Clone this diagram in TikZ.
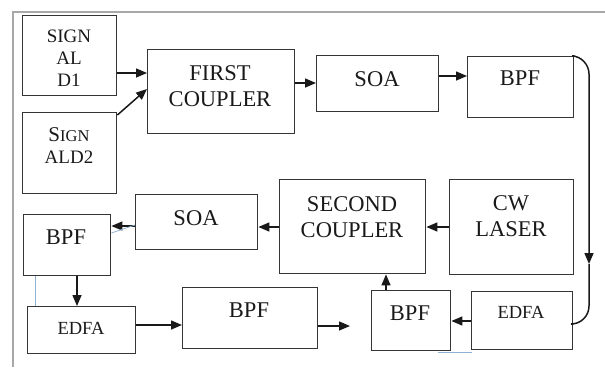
\documentclass[tikz,border=0pt]{standalone}
\usepackage{fontspec}
\setmainfont{Liberation Serif}
\usetikzlibrary{arrows.meta}
\definecolor{boxgray}{HTML}{353535}
\definecolor{framegray}{HTML}{A8A8A8}
\definecolor{faintblue}{HTML}{8FB2D4}
\begin{document}
\begin{tikzpicture}[x=1pt,y=-1pt,
  box/.style={draw=boxgray, line width=1.4pt, inner sep=0pt, anchor=north west},
  lbl/.style={align=center, inner sep=0pt, text=black!90,
    font=\fontsize{22.5}{26}\selectfont},
  small/.style={font=\fontsize{18.5}{22}\selectfont},
  wire/.style={line width=1.5pt, draw=black!90},
  link/.style={wire, -{Triangle[length=11pt,width=9pt]}},
  stray/.style={draw=faintblue, line width=0.8pt}]
\useasboundingbox (0,0) rectangle (605,367);
% page frame
\draw[framegray, line width=1.5pt] (13,367) -- (13,12) -- (605,12);

% upper row
\node[box, minimum width=94pt, minimum height=80pt] (sig1) at (22,15) {};
\node[lbl, font=\fontsize{19}{22}\selectfont] (sig1t) at (69,58) {SIGN\\AL\\D1};
\node[box, minimum width=94pt, minimum height=81pt] (sig2) at (22,112) {};
\node[lbl, font=\fontsize{19}{22}\selectfont] (sig2t) at (69,146)
  {{\fontsize{21}{22}\selectfont S}{\fontsize{16.5}{22}\selectfont IGN}\\ALD2};
\node[box, minimum width=147pt, minimum height=84pt] (fc) at (147,49) {};
\node[lbl] (fct) at (220,86) {FIRST\\COUPLER};
\node[box, minimum width=122pt, minimum height=56pt] (soa1) at (316,55) {};
\node[lbl] (soa1t) at (377,79) {SOA};
\node[box, minimum width=106pt, minimum height=61pt] (bpf1) at (467,56) {};
\node[lbl] (bpf1t) at (520,78) {BPF};

% middle row
\node[box, minimum width=124pt, minimum height=95pt] (cw) at (449,179) {};
\node[lbl] (cwt) at (511,216) {CW\\LASER};
\node[box, minimum width=146pt, minimum height=94pt] (sc) at (279,179) {};
\node[lbl] (sct) at (352,217) {SECOND\\COUPLER};
\node[box, minimum width=122pt, minimum height=55pt] (soa2) at (135,194) {};
\node[lbl] (soa2t) at (196,218) {SOA};
\node[box, minimum width=87pt, minimum height=61pt] (bpf2) at (23,214) {};
\node[lbl] (bpf2t) at (66,237) {BPF};

% lower row
\node[box, minimum width=108pt, minimum height=47pt] (edfa1) at (27,306) {};
\node[lbl, small] (edfa1t) at (81,328) {EDFA};
\node[box, minimum width=135pt, minimum height=61pt] (bpf3) at (182,287) {};
\node[lbl] (bpf3t) at (249,310) {BPF};
\node[box, minimum width=79pt, minimum height=60pt] (bpf4) at (371,290) {};
\node[lbl] (bpf4t) at (410,313) {BPF};
\node[box, minimum width=101pt, minimum height=58pt] (edfa2) at (471,291) {};
\node[lbl, small] (edfa2t) at (521,312) {EDFA};

% signal path
\draw[link] (sig1.east |- 0,73) -- (fc.west |- 0,73);
\draw[link] (sig2.east |- 0,115) -- (fc.west |- 0,89);
\draw[link] (fc.east |- 0,83) -- (soa1.west |- 0,83);
\draw[link] (soa1.east |- 0,76) -- (bpf1.west |- 0,76);

% loop back along the right edge
\coordinate (turnA) at (589,57);
\coordinate (tip) at (589,264);
\coordinate (turnB) at (589,324);
\draw[link, rounded corners=17pt] (bpf1.north east) -- (turnA) -- (tip);
\draw[wire, rounded corners=18pt] (tip) -- (turnB) -- (edfa2.east |- turnB);

\draw[link] (edfa2.west |- 0,321) -- (bpf4.east |- 0,321);
\draw[link] (bpf4.north -| 386,0) -- (sc.south -| 386,0);
\draw[link] (cw.west |- 0,227) -- (sc.east |- 0,227);
\draw[link] (sc.west |- 0,227) -- (soa2.east |- 0,227);
\draw[link] (soa2.west |- 0,226) -- (bpf2.east |- 0,226);
\draw[link] (bpf2.south -| 77,0) -- (edfa1.north -| 77,0);
\draw[link] (edfa1.east |- 0,325) -- (bpf3.west |- 0,325);
\coordinate (open) at (350,326);
\draw[link] (bpf3.east |- open) -- (open);

% faint stray strokes
\draw[stray] (bpf2.east |- 0,233) -- (soa2.west |- 0,225);
\draw[stray] (bpf2.south -| 35,0) -- (edfa1.north -| 35,0);
\draw[stray] (438,352) -- (472,352);
\end{tikzpicture}
\end{document}
